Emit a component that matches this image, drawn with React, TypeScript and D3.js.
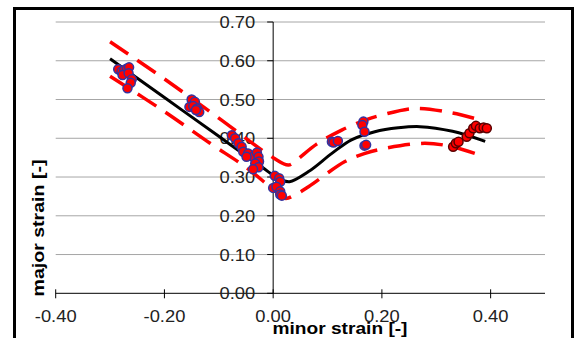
import React from 'react';
import * as d3 from 'd3';

// measured points, series with blue outline
const pointsX = [
  -0.285, -0.279, -0.274, -0.269, -0.265, -0.277, -0.266, -0.26, -0.262, -0.268,
  -0.15, -0.144, -0.154, -0.147, -0.14, -0.136, -0.142,
  -0.076, -0.07, -0.064, -0.058, -0.055, -0.046, -0.037, -0.03, -0.027, -0.026, -0.033, -0.027, -0.037, -0.049,
  0.003, 0.011, 0.013, 0.0, 0.006, 0.013, 0.013, 0.016,
  0.108, 0.111, 0.119,
  0.166, 0.164, 0.168, 0.168, 0.171,
];
const pointsY = [
  0.578, 0.572, 0.576, 0.58, 0.583, 0.563, 0.568, 0.552, 0.543, 0.529,
  0.5, 0.494, 0.481, 0.483, 0.477, 0.468, 0.473,
  0.408, 0.4, 0.387, 0.378, 0.365, 0.361, 0.352, 0.363, 0.352, 0.34, 0.335, 0.325, 0.32, 0.352,
  0.303, 0.297, 0.288, 0.272, 0.275, 0.263, 0.255, 0.252,
  0.391, 0.389, 0.393,
  0.443, 0.434, 0.417, 0.381, 0.383,
];

// second series, dark outline
const points2X = [0.331, 0.336, 0.341, 0.356, 0.361, 0.368, 0.373, 0.38, 0.387, 0.393];
const points2Y = [0.378, 0.387, 0.391, 0.404, 0.413, 0.426, 0.432, 0.426, 0.428, 0.426];

// limit curve
const curveX = [-0.3, -0.2, -0.1, -0.02, 0.01, 0.03, 0.065, 0.108, 0.144, 0.187, 0.23, 0.27, 0.33, 0.39];
const curveY = [0.605, 0.505, 0.405, 0.325, 0.296, 0.288, 0.314, 0.361, 0.396, 0.417, 0.427, 0.43, 0.418, 0.392];

// upper / lower bands
const upperX = [-0.3, -0.2, -0.1, 0.0, 0.028, 0.043, 0.08, 0.126, 0.169, 0.2, 0.26, 0.33, 0.386];
const upperY = [0.649, 0.553, 0.452, 0.35, 0.331, 0.344, 0.385, 0.421, 0.447, 0.46, 0.477, 0.465, 0.445];
const lowerX = [-0.3, -0.2, -0.116, -0.05, 0.0, 0.022, 0.04, 0.065, 0.132, 0.169, 0.206, 0.279, 0.33, 0.386];
const lowerY = [0.56, 0.469, 0.387, 0.325, 0.268, 0.245, 0.254, 0.275, 0.34, 0.361, 0.374, 0.387, 0.378, 0.354];

const xTicks = [-0.4, -0.2, 0.0, 0.2, 0.4];
const yTicks = [0.0, 0.1, 0.2, 0.3, 0.4, 0.5, 0.6, 0.7];

const App: React.FC = () => {
  const width = 577;
  const height = 338;

  const x = d3.scaleLinear().domain([-0.4, 0.5]).range([55.7, 545]);
  const y = d3.scaleLinear().domain([0, 0.7]).range([293.3, 22]);

  const line = d3
    .line<[number, number]>()
    .x(d => x(d[0]))
    .y(d => y(d[1]))
    .curve(d3.curveCatmullRom.alpha(0.5));

  const zip = (a: number[], b: number[]) => a.map((v, i) => [v, b[i]] as [number, number]);

  const font = 'Arial, "Liberation Sans", sans-serif';

  return (
    <div style={{ position: 'absolute', left: 0, top: 0 }}>
      <svg width={width} height={height} style={{ display: 'block', background: '#fff' }}>
        <rect x={14.5} y={8.5} width={558} height={340} fill="#fff" stroke="#000" strokeWidth={3} />

        {/* grid */}
        {yTicks.filter(t => t > 0).map(t => (
          <line key={t} x1={x(-0.4)} x2={x(0.5)} y1={y(t)} y2={y(t)} stroke="#a6a6a6" strokeWidth={1} />
        ))}

        {/* axes */}
        <line x1={x(-0.4)} x2={x(0.5)} y1={y(0)} y2={y(0)} stroke="#000" strokeWidth={1} />
        <line x1={x(0)} x2={x(0)} y1={y(0.7)} y2={y(0)} stroke="#000" strokeWidth={1} />
        {xTicks.map(t => (
          <line key={t} x1={x(t)} x2={x(t)} y1={y(0) - 4} y2={y(0) + 5} stroke="#000" strokeWidth={1} />
        ))}
        {yTicks.map(t => (
          <line key={t} x1={x(0) - 6} x2={x(0)} y1={y(t)} y2={y(t)} stroke="#000" strokeWidth={1} />
        ))}

        {/* tick labels */}
        {yTicks.map(t => (
          <text
            key={t}
            transform={`translate(${x(0) - 18},${y(t) + 6}) scale(1.08,1)`}
            textAnchor="end"
            fontFamily={font}
            fontSize={17}
            fill="#222"
          >
            {t.toFixed(2)}
          </text>
        ))}
        {xTicks.map(t => (
          <text
            key={t}
            transform={`translate(${x(t)},${322}) scale(1.08,1)`}
            textAnchor="middle"
            fontFamily={font}
            fontSize={17}
            fill="#222"
          >
            {t.toFixed(2)}
          </text>
        ))}

        {/* curves */}
        <path d={line(zip(upperX, upperY)) || ''} fill="none" stroke="#ff0000" strokeWidth={3.5} strokeDasharray="22,11" />
        <path d={line(zip(lowerX, lowerY)) || ''} fill="none" stroke="#ff0000" strokeWidth={3.5} strokeDasharray="22,11" />
        <path d={line(zip(curveX, curveY)) || ''} fill="none" stroke="#000" strokeWidth={3} />

        {/* points */}
        {pointsX.map((v, i) => (
          <circle key={'a' + i} cx={x(v)} cy={y(pointsY[i])} r={4.5} fill="#ff0000" stroke="#3333a0" strokeWidth={1.5} />
        ))}
        {points2X.map((v, i) => (
          <circle key={'b' + i} cx={x(v)} cy={y(points2Y[i])} r={4.5} fill="#ff0000" stroke="#5a0000" strokeWidth={1.5} />
        ))}

        {/* titles */}
        <text
          transform="translate(44,228) rotate(-90)"
          textAnchor="middle"
          fontFamily={font}
          fontWeight="bold"
          fontSize={17}
          textLength={137}
          lengthAdjust="spacingAndGlyphs"
        >
          major strain [-]
        </text>
        <text
          x={340}
          y={334}
          textAnchor="middle"
          fontFamily={font}
          fontWeight="bold"
          fontSize={17}
          textLength={135}
          lengthAdjust="spacingAndGlyphs"
        >
          minor strain [-]
        </text>
      </svg>
    </div>
  );
};

export default App;
